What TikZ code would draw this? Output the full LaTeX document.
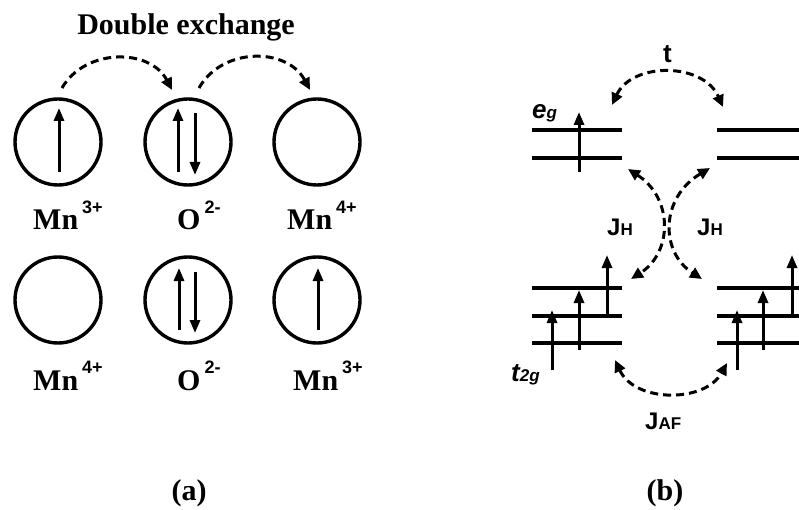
\documentclass[tikz,border=0pt]{standalone}
\usepackage{fontspec}
\setmainfont{Liberation Serif}
\setsansfont{Liberation Sans}
\usetikzlibrary{arrows.meta,calc}
\newcommand\ionlab[2]{#1\hspace{4pt}\raisebox{17pt}{\fontsize{18}{18}\selectfont\sffamily\bfseries #2}}
\newcommand\fs[1]{\fontsize{#1}{#1}\selectfont}
\begin{document}
\begin{tikzpicture}[x=1pt,y=-1pt,
  ion/.style={circle,draw,line width=3.4pt,minimum size=86pt,inner sep=0pt},
  spin/.style={line width=3pt,-{Triangle[length=13pt,width=10pt]}},
  hop/.style={line width=3pt,dash pattern=on 8pt off 5pt,-{Triangle[length=12pt,width=11pt]}},
  hoptwo/.style={hop,{Triangle[length=12pt,width=11pt]}-{Triangle[length=12pt,width=11pt]}},
  level/.style={line width=3.4pt},
  serlab/.style={inner sep=0pt,anchor=base west,font=\fs{30}\bfseries},
  sanlab/.style={inner sep=0pt,anchor=base west,font=\sffamily\bfseries},
]
\useasboundingbox (0,0) rectangle (799,510);
% ---------------- panel (a)
\node[inner sep=0pt,anchor=base,font=\fs{30}\bfseries] (title) at (186,35) {Double exchange};
\node[ion] (c1) at (58,142) {};
\node[ion] (c2) at (188,142) {};
\node[ion] (c3) at (317,142) {};
\node[ion] (c4) at (58,300) {};
\node[ion] (c5) at (188,300) {};
\node[ion] (c6) at (317,300) {};
% spins
\draw[spin] ($(c1.center)+(1,30)$) -- ($(c1.center)+(1,-34)$);
\draw[spin] ($(c2.center)+(-10,30)$) -- ($(c2.center)+(-10,-34)$);
\draw[spin] ($(c2.center)+(7,-29)$) -- ($(c2.center)+(7,33)$);
\draw[spin] ($(c5.center)+(-9,30)$) -- ($(c5.center)+(-9,-32)$);
\draw[spin] ($(c5.center)+(7,-28)$) -- ($(c5.center)+(7,33)$);
\draw[spin] ($(c6.center)+(1,30)$) -- ($(c6.center)+(1,-32)$);
% hopping
\coordinate (h1s) at (62,88);
\coordinate (h1e) at (172,90);
\coordinate (h2s) at (199,88);
\coordinate (h2e) at (310,90);
\draw[hop] (h1s) .. controls (85,48) and (150,48) .. (h1e);
\draw[hop] (h2s) .. controls (222,47) and (287,47) .. (h2e);
% labels
\node[serlab] (l1) at (33,230) {\ionlab{Mn}{3+}};
\node[serlab] (l2) at (177,230) {\ionlab{O}{2-}};
\node[serlab] (l3) at (287,230) {\ionlab{Mn}{4+}};
\node[serlab] (l4) at (33,390) {\ionlab{Mn}{4+}};
\node[serlab] (l5) at (177,390) {\ionlab{O}{2-}};
\node[serlab] (l6) at (293,390) {\ionlab{Mn}{3+}};
\node[inner sep=0pt,anchor=base,font=\fs{30}\bfseries] (pa) at (189,500) {(a)};
% ---------------- panel (b)
% e_g levels
\draw[level] (532,130) -- (622,130);
\draw[level] (532,158) -- (622,158);
\draw[level] (717,130) -- (799,130);
\draw[level] (717,158) -- (799,158);
% t_2g levels
\foreach \yy in {288,316,343}{
  \draw[level] (532,\yy) -- (622,\yy);
  \draw[level] (717,\yy) -- (799,\yy);
}
% spins
\draw[spin] (579,172) -- (579,112);
\draw[spin] (552,370) -- (552,310);
\draw[spin] (579,350) -- (579,290);
\draw[spin] (607,315) -- (607,255);
\draw[spin] (737,370) -- (737,310);
\draw[spin] (763,350) -- (763,290);
\draw[spin] (792,315) -- (792,255);
% couplings
\coordinate (ta) at (612,105);
\coordinate (tb) at (723,107);
\draw[hoptwo] (ta) .. controls (632,62) and (703,62) .. (tb);
\coordinate (jla) at (628,169);
\coordinate (jlb) at (631,279);
\draw[hoptwo] (jla) .. controls (673,198) and (673,252) .. (jlb);
\coordinate (jra) at (710,168);
\coordinate (jrb) at (702,279);
\draw[hoptwo] (jra) .. controls (660,198) and (660,252) .. (jrb);
\coordinate (jaa) at (615,360);
\coordinate (jab) at (727,363);
\draw[hoptwo] (jaa) .. controls (635,403) and (705,403) .. (jab);
% labels
\node[sanlab,font=\sffamily\bfseries\fs{26}] (tl) at (663,63) {t};
\node[sanlab,font=\sffamily\bfseries\itshape] (egl) at (532,119) {\fs{26}e\fs{17}g};
\node[sanlab,font=\sffamily\bfseries\itshape] (tgl) at (511,381) {\fs{26}t\fs{17}2g};
\node[sanlab] (jh1) at (607,236) {\fs{24}J\fs{17}H};
\node[sanlab] (jh2) at (697,236) {\fs{24}J\fs{17}H};
\node[sanlab] (jaf) at (645,429) {\fs{24}J\fs{17}AF};
\node[inner sep=0pt,anchor=base,font=\fs{30}\bfseries] (pb) at (665,500) {(b)};
\end{tikzpicture}
\end{document}
